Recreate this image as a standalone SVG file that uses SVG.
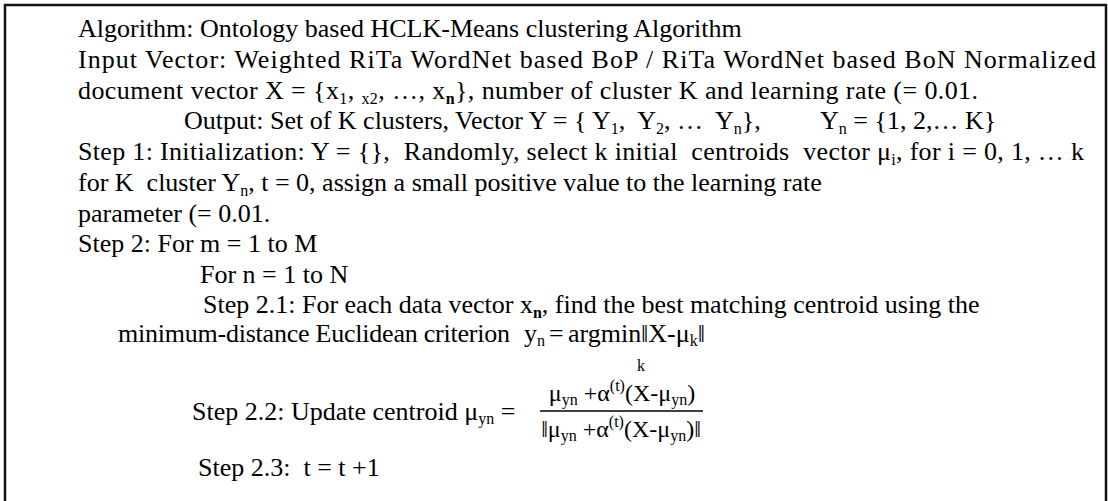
<svg xmlns="http://www.w3.org/2000/svg" width="1108" height="501" viewBox="0 0 1108 501">
<style>
text{font-family:"Liberation Serif","Times New Roman",serif;font-size:26px;fill:#000;white-space:pre}
.s{font-size:16px}
.f{font-size:24px}
</style>
<rect x="0" y="0" width="1108" height="501" fill="#fff"/>
<path d="M5,503 V5 H1106 V503" fill="none" stroke="#111" stroke-width="2.5"/>
<g id="algorithm">
<text x="78" y="37">Algorithm: Ontology based HCLK-Means clustering Algorithm</text>
<text x="78" y="68" textLength="1018" lengthAdjust="spacing">Input Vector: Weighted RiTa WordNet based BoP / RiTa WordNet based BoN Normalized</text>
<text x="78" y="99" textLength="900" lengthAdjust="spacing">document vector X = {x<tspan class="s" dy="5">1</tspan><tspan dy="-5">, </tspan><tspan class="s" dy="5">x2</tspan><tspan dy="-5">, …, x</tspan><tspan class="s" dy="5" font-weight="bold">n</tspan><tspan dy="-5">}, number of cluster K and learning rate (= 0.01.</tspan></text>
<text x="184" y="129">Output: Set of K clusters, Vector Y = { Y<tspan class="s" dy="5">1</tspan><tspan dy="-5">,  Y</tspan><tspan class="s" dy="5">2</tspan><tspan dy="-5">, …  Y</tspan><tspan class="s" dy="5">n</tspan><tspan dy="-5">},</tspan></text>
<text x="820" y="129">Y<tspan class="s" dy="5">n</tspan><tspan dy="-5"> = {1, 2,… K}</tspan></text>
<text x="78" y="160" textLength="1006" lengthAdjust="spacing">Step 1: Initialization: Y = {},  Randomly, select k initial  centroids  vector μ<tspan class="s" dy="5">i</tspan><tspan dy="-5">, for i = 0, 1, … k</tspan></text>
<text x="78" y="191">for K  cluster Y<tspan class="s" dy="5">n</tspan><tspan dy="-5">, t = 0, assign a small positive value to the learning rate</tspan></text>
<text x="78" y="222">parameter (= 0.01.</text>
<text x="78" y="252">Step 2: For m = 1 to M</text>
<text x="200" y="283">For n = 1 to N</text>
<text x="203" y="313">Step 2.1: For each data vector x<tspan class="s" dy="5" font-weight="bold">n</tspan><tspan dy="-5">, find the best matching centroid using the</tspan></text>
<text x="118" y="342" textLength="392" lengthAdjust="spacing">minimum-distance Euclidean criterion</text>
<text x="524" y="342">y<tspan class="s" dy="4">n</tspan><tspan dy="-4" x="549">=</tspan><tspan x="568">argmin</tspan><tspan x="641">‖X-μ</tspan><tspan class="s" dy="4">k</tspan><tspan dy="-4">‖</tspan></text>
<text class="s" x="641" y="371" text-anchor="middle">k</text>
<text x="192" y="420">Step 2.2: Update centroid μ<tspan class="s" dy="4">yn</tspan><tspan dy="-4"> =</tspan></text>
<text class="f" x="622" y="401" text-anchor="middle">μ<tspan class="s" dy="4">yn</tspan><tspan dy="-4"> +α</tspan><tspan class="s" dy="-10">(t)</tspan><tspan dy="10">(X-μ</tspan><tspan class="s" dy="4">yn</tspan><tspan dy="-4">)</tspan></text>
<line x1="540" y1="411" x2="703" y2="411" stroke="#000" stroke-width="1.5"/>
<text class="f" x="621" y="437" text-anchor="middle">‖μ<tspan class="s" dy="4">yn</tspan><tspan dy="-4"> +α</tspan><tspan class="s" dy="-10">(t)</tspan><tspan dy="10">(X-μ</tspan><tspan class="s" dy="4">yn</tspan><tspan dy="-4">)‖</tspan></text>
<text x="198" y="476">Step 2.3:  t = t +1</text>
</g>
</svg>
